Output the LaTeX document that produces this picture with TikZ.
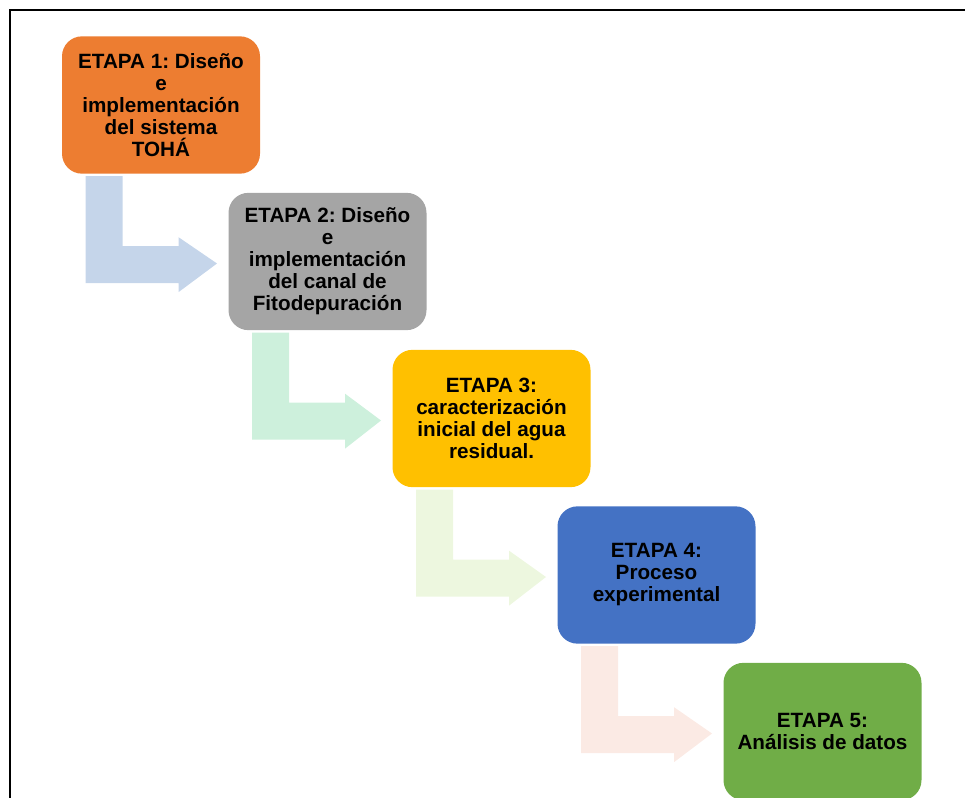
\documentclass[tikz,border=0pt]{standalone}
\usepackage{fontspec}
\setmainfont{Liberation Sans}
\usetikzlibrary{calc}
\frenchspacing

\definecolor{etapaA}{RGB}{237,125,49}
\definecolor{etapaB}{RGB}{165,165,165}
\definecolor{etapaC}{RGB}{255,192,0}
\definecolor{etapaD}{RGB}{68,114,196}
\definecolor{etapaE}{RGB}{112,173,71}
\definecolor{flechaA}{RGB}{197,213,234}
\definecolor{flechaB}{RGB}{205,240,220}
\definecolor{flechaC}{RGB}{237,247,223}
\definecolor{flechaD}{RGB}{251,234,228}

\tikzset{every picture/.style={line width=0.75pt}}
\tikzset{etapa/.style={rounded corners=15pt, minimum width=148.5pt, minimum height=103pt,
    inner sep=0pt, align=center, text=black,
    font=\fontsize{15.5}{16.5}\selectfont\bfseries}}

% bent block arrow from the bottom of one stage to the left side of the next
\newcommand{\flechaetapa}[3]{%
  \fill[#3] ($(#1.south west)+(24,2)$) -- ($(#1.south west)+(61,2)$) -- ($(#1.south west)+(61,72)$)
    -- ($(#1.south west)+(117,72)$) -- ($(#1.south west)+(117,63)$) -- ($(#2.west)+(-11,2)$)
    -- ($(#1.south west)+(117,118)$) -- ($(#1.south west)+(117,109)$) -- ($(#1.south west)+(24,109)$) -- cycle ;}

\begin{document}
\begin{tikzpicture}[x=0.75pt,y=0.75pt,yscale=-1,xscale=1]
    \useasboundingbox (0,0) rectangle (965,798);

    %Shape: Frame
    \draw [line width=1.5pt] (10,800) -- (10,10) -- (967,10) ;

    % Stage nodes
    \node [etapa, fill=etapaA] (e1) at (161,105) {ETAPA 1: Diseño\\e\\implementación\\del sistema\\TOHÁ};
    \node [etapa, fill=etapaB] (e2) at (327.5,261.5) {ETAPA 2: Diseño\\e\\implementación\\del canal de\\Fitodepuración};
    \node [etapa, fill=etapaC] (e3) at (491.5,418.5) {ETAPA 3:\\caracterización\\inicial del agua\\residual.};
    \node [etapa, fill=etapaD] (e4) at (656.5,575) {ETAPA 4:\\Proceso\\experimental};
    \node [etapa, fill=etapaE] (e5) at (822.5,731.5) {ETAPA 5:\\Análisis de datos};

    % Arrows
    \flechaetapa{e1}{e2}{flechaA}
    \flechaetapa{e2}{e3}{flechaB}
    \flechaetapa{e3}{e4}{flechaC}
    \flechaetapa{e4}{e5}{flechaD}

\end{tikzpicture}
\end{document}
